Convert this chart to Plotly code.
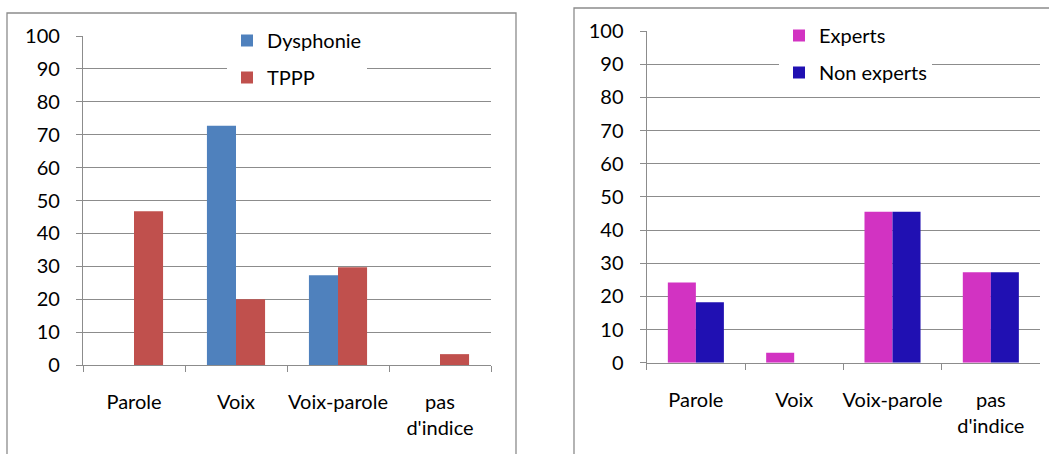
import plotly.graph_objects as go

categories = ["Parole", "Voix", "Voix-parole", "pas<br>d'indice"]

dysphonie = [0, 72.7, 27.3, 0]
tppp = [46.7, 20.0, 29.7, 3.3]

experts = [24.2, 3.0, 45.5, 27.3]
non_experts = [18.2, 0, 45.5, 27.3]

y_ticks = list(range(0, 101, 10))

W, H = 1049, 454
GRID = "#8C8C8C"
FONT = dict(family="Lato, 'Open Sans', sans-serif", size=20, color="#000000")

fig = go.Figure()

fig.add_trace(go.Bar(x=categories, y=dysphonie, name="Dysphonie",
                     marker=dict(color="#4F81BD", line=dict(width=0)),
                     xaxis="x", yaxis="y", legend="legend", legendgroup="a"))
fig.add_trace(go.Bar(x=categories, y=tppp, name="TPPP",
                     marker=dict(color="#C0504D", line=dict(width=0)),
                     xaxis="x", yaxis="y", legend="legend", legendgroup="b"))
fig.add_trace(go.Bar(x=categories, y=experts, name="Experts",
                     marker=dict(color="#D233C2", line=dict(width=0)),
                     xaxis="x2", yaxis="y2", legend="legend2", legendgroup="c"))
fig.add_trace(go.Bar(x=categories, y=non_experts, name="Non experts",
                     marker=dict(color="#2010B2", line=dict(width=0)),
                     xaxis="x2", yaxis="y2", legend="legend2", legendgroup="d"))

def yax(domain, anchor):
    return dict(domain=domain, anchor=anchor, range=[0, 100], tickvals=y_ticks,
                showgrid=True, gridcolor=GRID, gridwidth=1.3, zeroline=False,
                showline=True, linecolor=GRID, linewidth=1.3,
                ticks="outside", ticklen=6, tickcolor=GRID, tickwidth=1.3,
                ticklabelstandoff=12, tickfont=FONT, fixedrange=True)

def xax(domain, anchor):
    return dict(domain=domain, anchor=anchor, type="category",
                showline=True, linecolor=GRID, linewidth=1.3,
                ticks="outside", ticklen=6, tickcolor=GRID, tickwidth=1.3,
                tickson="boundaries", showgrid=False, tickfont=FONT,
                tickangle=0, ticklabelstandoff=19, fixedrange=True)

fig.update_layout(
    width=W, height=H,
    margin=dict(l=0, r=0, t=0, b=0, autoexpand=False),
    paper_bgcolor="white", plot_bgcolor="white",
    font=FONT,
    barmode="group", bargap=0.43, bargroupgap=0,
    xaxis=xax([83 / W, 491 / W], "y"),
    yaxis=yax([89 / H, 418 / H], "x"),
    xaxis2=xax([646.7 / W, 1040 / W], "y2"),
    yaxis2=yax([91.3 / H, 423 / H], "x2"),
    legend=dict(x=227 / W, y=1 - 21 / H, xanchor="left", yanchor="top",
                bgcolor="white", borderwidth=0, traceorder="grouped",
                tracegroupgap=8, itemwidth=30, font=FONT),
    legend2=dict(x=779 / W, y=1 - 16 / H, xanchor="left", yanchor="top",
                 bgcolor="white", borderwidth=0, traceorder="grouped",
                 tracegroupgap=8, itemwidth=30, font=FONT),
    shapes=[
        dict(type="rect", xref="paper", yref="paper", layer="below",
             x0=7 / W, x1=516 / W, y0=-0.05, y1=1 - 13 / H,
             line=dict(color=GRID, width=1.3)),
        dict(type="rect", xref="paper", yref="paper", layer="below",
             x0=574 / W, x1=1.05, y0=-0.05, y1=1 - 8 / H,
             line=dict(color=GRID, width=1.3)),
    ],
)

fig.write_html("out.html", config={"displayModeBar": False},
               post_script="document.body.style.margin='0';document.body.style.overflow='hidden';")
